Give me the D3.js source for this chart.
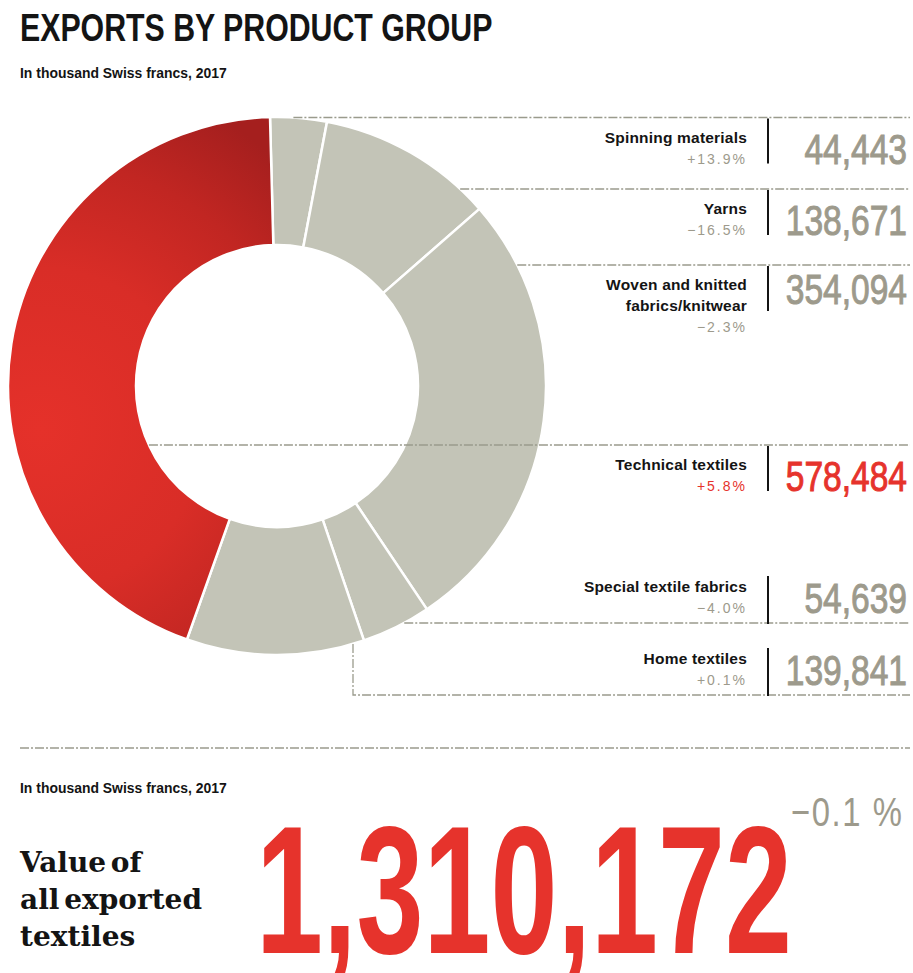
<!DOCTYPE html>
<html>
<head>
<meta charset="utf-8">
<script src="https://cdn.jsdelivr.net/npm/d3@7"></script>
<style>
  html, body { margin: 0; padding: 0; background: #fff; }
  svg { display: block; }
</style>
</head>
<body>
<div id="chart"></div>
<script>
// ---- Data: exports by product group, thousand CHF, 2017 ----
const categories = [
  "Spinning materials",
  "Yarns",
  "Woven and knitted\nfabrics/knitwear",
  "Special textile fabrics",
  "Home textiles",
  "Technical textiles"
];
const values  = [44443, 138671, 354094, 54639, 139841, 578484];
const changes = [13.9, -16.5, -2.3, -4.0, 0.1, 5.8];   // % vs. previous year
const highlighted = "Technical textiles";
const totalChange = -0.1;
const unitNote = "In thousand Swiss francs, 2017";
const titleText = "EXPORTS BY PRODUCT GROUP";
const totalLabel = ["Value of", "all exported", "textiles"];

// ---- Layout ----
const W = 913, H = 973;
const cx = 277, cy = 386, rOuter = 269, rInner = 141;
const lineEnd = 910, dividerX = 768, nameX = 747, numX = 907;
// one label row per category: y of its dashed leader, where the text sits, how the leader reaches the ring
const rows = [
  { line: 117.5, place: "below", reach: "outer" },
  { line: 189,   place: "below", reach: "outer" },
  { line: 265,   place: "below", reach: "outer" },
  { line: 623,   place: "above", reach: "outer" },
  { line: 695,   place: "above", reach: "elbow", elbowX: 353 },
  { line: 445,   place: "below", reach: "inner" }
];

const RED = "#e6332c", GREY_SLICE = "#c3c4b7", GREY_TEXT = "#9d9a8c", DASH = "#9a9b8d", INK = "#141414";
const fmtNum = d3.format(",");
const fmtPct = d3.format("+.1f");

const svg = d3.select("#chart").append("svg")
  .attr("width", W).attr("height", H)
  .attr("viewBox", `0 0 ${W} ${H}`);

// radial shading for the highlighted slice (coordinates relative to the ring centre)
const defs = svg.append("defs");
const grad = defs.append("radialGradient")
  .attr("id", "redShade").attr("gradientUnits", "userSpaceOnUse")
  .attr("cx", 40 - cx).attr("cy", 430 - cy).attr("r", 360);
grad.append("stop").attr("offset", "0%").attr("stop-color", "#e5312a");
grad.append("stop").attr("offset", "45%").attr("stop-color", "#d92d27");
grad.append("stop").attr("offset", "75%").attr("stop-color", "#c12622");
grad.append("stop").attr("offset", "100%").attr("stop-color", "#a51f1e");

// horizontally condensed text (scaled group)
function condensed(parent, x, y, sx, txt) {
  return parent.append("g")
    .attr("transform", `translate(${x},${y}) scale(${sx},1)`)
    .append("text").text(txt);
}

// ---- Title ----
condensed(svg, 20, 41, 0.777, titleText)
  .attr("font-family", "'Liberation Sans', Arial, sans-serif")
  .attr("font-weight", "bold").attr("font-size", 39).attr("fill", INK);
condensed(svg, 20, 78, 0.93, unitNote)
  .attr("font-family", "'Liberation Sans', Arial, sans-serif")
  .attr("font-weight", "bold").attr("font-size", 15).attr("fill", INK);

// ---- Donut ----
const offset = -0.026;
const pie = d3.pie().sort(null).value(d => d.value)
  .startAngle(offset).endAngle(2 * Math.PI + offset);
const arc = d3.arc().innerRadius(rInner).outerRadius(rOuter);
const data = categories.map((c, i) => ({ name: c, value: values[i], change: changes[i], row: rows[i] }));
const arcs = pie(data);

const ring = svg.append("g").attr("transform", `translate(${cx},${cy})`);
ring.selectAll("path").data(arcs).join("path")
  .attr("d", arc)
  .attr("fill", d => d.data.name === highlighted ? "url(#redShade)" : GREY_SLICE)
  .attr("stroke", "#fff").attr("stroke-width", 2.5).attr("stroke-linejoin", "round");

// ---- Leaders ----
const leaders = svg.append("g")
  .attr("fill", "none").attr("stroke", DASH).attr("stroke-width", 1.3)
  .attr("stroke-dasharray", "9,2,2,2");

data.forEach(d => {
  const r = d.row, dy = r.line - cy;
  let path;
  if (r.reach === "outer") {
    const x0 = cx + Math.sqrt(Math.max(0, rOuter * rOuter - dy * dy));
    path = d3.path(); path.moveTo(x0, r.line); path.lineTo(lineEnd, r.line);
  } else if (r.reach === "inner") {
    const x0 = cx - Math.sqrt(Math.max(0, rInner * rInner - dy * dy));
    path = d3.path(); path.moveTo(x0, r.line); path.lineTo(lineEnd, r.line);
  } else {
    const ex = r.elbowX, y0 = cy + Math.sqrt(rOuter * rOuter - (ex - cx) * (ex - cx));
    path = d3.path(); path.moveTo(ex, y0); path.lineTo(ex, r.line); path.lineTo(lineEnd, r.line);
  }
  leaders.append("path").attr("d", path.toString());
});

// bottom separator
svg.append("line")
  .attr("x1", 20).attr("x2", lineEnd).attr("y1", 748).attr("y2", 748)
  .attr("stroke", DASH).attr("stroke-width", 1.3).attr("stroke-dasharray", "9,2,2,2");

// ---- Labels ----
const labels = svg.append("g");
data.forEach(d => {
  const r = d.row;
  const hot = d.name === highlighted;
  const lines = d.name.split("\n");
  let nameY, pctY, numY, divTop, divBot;
  if (r.place === "below") {
    nameY = r.line + 25;
    pctY = r.line + 25 + 21 * lines.length;
    numY = lines.length > 1 ? r.line + 39 : r.line + 46;
    divTop = r.line + 1; divBot = r.line + 46;
  } else {
    nameY = r.line - 31;
    pctY = r.line - 10;
    numY = r.line - 10;
    divTop = r.line - 47; divBot = r.line + 1;
  }
  lines.forEach((ln, k) => {
    labels.append("text")
      .attr("x", nameX).attr("y", nameY + k * 21)
      .attr("text-anchor", "end")
      .attr("font-family", "'Liberation Sans', Arial, sans-serif")
      .attr("font-weight", "bold").attr("font-size", 15.5)
      .attr("letter-spacing", 0.2)
      .attr("fill", INK).text(ln);
  });
  labels.append("text")
    .attr("x", nameX).attr("y", pctY)
    .attr("text-anchor", "end")
    .attr("font-family", "'Liberation Sans', Arial, sans-serif")
    .attr("font-size", 14).attr("letter-spacing", 2)
    .attr("fill", hot ? RED : GREY_TEXT)
    .text(fmtPct(d.change) + "%");
  labels.append("line")
    .attr("x1", dividerX).attr("x2", dividerX).attr("y1", divTop).attr("y2", divBot)
    .attr("stroke", INK).attr("stroke-width", 2);
  condensed(labels, numX, numY, 0.78, fmtNum(d.value))
    .attr("text-anchor", "end")
    .attr("font-family", "'Liberation Sans', Arial, sans-serif")
    .attr("font-size", 43)
    .attr("fill", hot ? RED : GREY_TEXT)
    .attr("stroke", hot ? RED : GREY_TEXT).attr("stroke-width", 1);
});

// ---- Total ----
const total = d3.sum(values);
condensed(svg, 20, 793, 0.93, unitNote)
  .attr("font-family", "'Liberation Sans', Arial, sans-serif")
  .attr("font-weight", "bold").attr("font-size", 15).attr("fill", INK);

totalLabel.forEach((t, k) => {
  svg.append("text")
    .attr("x", 20).attr("y", 872 + k * 37)
    .attr("font-family", "'DejaVu Serif', Georgia, serif")
    .attr("font-weight", "bold").attr("font-size", 28)
    .attr("word-spacing", -5)
    .attr("fill", INK).text(t);
});

// big total; the comma tails run past the bottom edge
condensed(svg, 256, 953, 0.662, fmtNum(total))
  .attr("font-family", "'Liberation Sans', Arial, sans-serif")
  .attr("font-weight", "bold").attr("font-size", 182)
  .attr("fill", RED);

condensed(svg, 791, 826, 0.8, d3.format(".1f")(totalChange) + " %")
  .attr("font-family", "'Liberation Sans', Arial, sans-serif")
  .attr("font-size", 41).attr("letter-spacing", 2)
  .attr("fill", GREY_TEXT);
</script>
</body>
</html>
